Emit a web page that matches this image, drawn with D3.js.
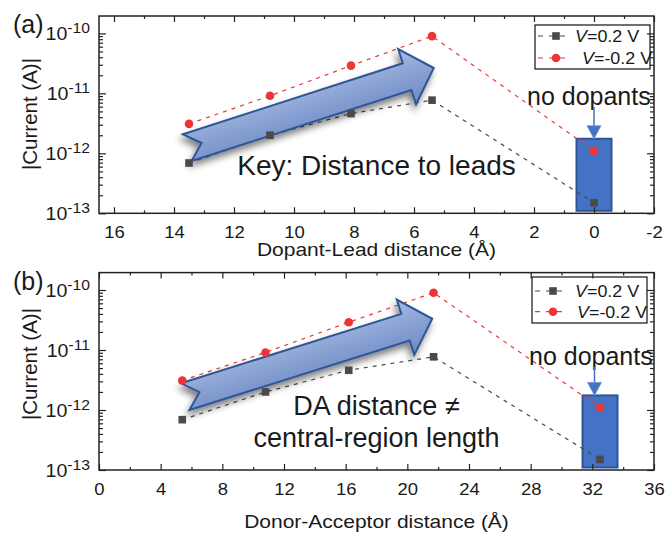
<!DOCTYPE html>
<html>
<head>
<meta charset="utf-8">
<script src="https://cdn.jsdelivr.net/npm/d3@7"></script>
<style>
  body { margin: 0; background: #fff; }
  svg { display: block; }
  text { font-family: "Liberation Sans", Arial, sans-serif; fill: #1a1a1a; }
</style>
</head>
<body>
<svg id="chart" width="668" height="536"></svg>
<script>
// ---- data ----
const leadDistance = [13.5, 10.8, 8.1, 5.4, 0];            // Å, panel (a)
const donorAcceptorDistance = [5.4, 10.8, 16.2, 21.7, 32.5]; // Å, panel (b)
const currentPosBias = [6.9e-13, 2.0e-12, 4.6e-12, 7.7e-12, 1.5e-13]; // |I| at V = 0.2 V
const currentNegBias = [3.1e-12, 9.1e-12, 2.9e-11, 9.0e-11, 1.1e-12]; // |I| at V = -0.2 V
const seriesNames = ["=0.2 V", "=-0.2 V"];
const yTickExponents = [-10, -11, -12, -13];
const xTicksLead = [16, 14, 12, 10, 8, 6, 4, 2, 0, -2];
const xTicksDA = [0, 4, 8, 12, 16, 20, 24, 28, 32, 36];

const COLORS = { pos: "#4a4a4a", neg: "#ee3535", box: "#4472c4", boxEdge: "#2f5597" };
const STRETCH = 1.12; // horizontal stretch of axis lettering

const svg = d3.select("#chart");
const defs = svg.append("defs");

const grad = defs.append("linearGradient").attr("id", "arrowFill")
  .attr("x1", 0).attr("y1", 0).attr("x2", 0).attr("y2", 1);
grad.append("stop").attr("offset", "0%").attr("stop-color", "#a6bae0");
grad.append("stop").attr("offset", "55%").attr("stop-color", "#859ed1");
grad.append("stop").attr("offset", "100%").attr("stop-color", "#6d8bc6");

const shadow = defs.append("filter").attr("id", "arrowShadow")
  .attr("x", "-20%").attr("y", "-40%").attr("width", "140%").attr("height", "180%");
shadow.append("feGaussianBlur").attr("in", "SourceAlpha").attr("stdDeviation", 3.5);
shadow.append("feOffset").attr("dx", -2).attr("dy", 5).attr("result", "off");
shadow.append("feComponentTransfer").append("feFuncA").attr("type", "linear").attr("slope", 0.5);
const merge = shadow.append("feMerge");
merge.append("feMergeNode");
merge.append("feMergeNode").attr("in", "SourceGraphic");

// notched block arrow, local coordinates (u along, v across)
const arrowShape = [[0, 0], [231, 0], [231, -15], [259, 14], [231, 43], [231, 28], [0, 28], [15, 14]];

const panels = [
  {
    tag: "(a)", xs: leadDistance, xDomain: [16.5, -2], majors: xTicksLead, minorStep: 1,
    left: 99, right: 654, top: 16, bottom: 213.3,
    xTitle: "Dopant-Lead distance (Å)", xTitleY: 255.7, yTitleY: 114,
    legend: { x: 535, y: 25, w: 115, h: 44, row1: 36, row2: 58, t1: 575, t2: 582 },
    arrow: { x: 183, y: 134.3, angle: -17.9 },
    notes: [{ text: "Key: Distance to leads", y: 175, size: 28 }],
    noDop: { x: 527, y: 105, ax: 594 }
  },
  {
    tag: "(b)", xs: donorAcceptorDistance, xDomain: [0, 36], majors: xTicksDA, minorStep: 2,
    left: 99, right: 654, top: 272.6, bottom: 470,
    xTitle: "Donor-Acceptor distance (Å)", xTitleY: 528, yTitleY: 364,
    legend: { x: 532, y: 277, w: 115, h: 46, row1: 291, row2: 311.7, t1: 575, t2: 577 },
    arrow: { x: 181, y: 383.3, angle: -17.5 },
    notes: [{ text: "DA distance ≠", y: 415, size: 27 }, { text: "central-region length", y: 446.7, size: 27 }],
    noDop: { x: 529, y: 365, ax: 594.5 }
  }
];

panels.forEach(p => drawPanel(p));

function drawPanel(p) {
  const x = d3.scaleLinear().domain(p.xDomain).range([p.left, p.right]);
  const y = d3.scaleLog().domain([1e-13, Math.pow(10, -9.71)]).range([p.bottom, p.top]);
  const g = svg.append("g");
  const n = p.xs.length;

  // highlighted "no dopants" column
  const cx = x(p.xs[n - 1]);
  const boxTop = y(1.75e-12);
  g.append("rect")
    .attr("x", cx - 17.5).attr("y", boxTop)
    .attr("width", 35).attr("height", p.bottom - 2.5 - boxTop)
    .attr("fill", COLORS.box).attr("stroke", COLORS.boxEdge).attr("stroke-width", 2);

  // dashed series lines
  const series = [
    { vals: currentPosBias, color: COLORS.pos, shape: "square" },
    { vals: currentNegBias, color: COLORS.neg, shape: "circle" }
  ];
  const line = d3.line().x(d => x(d[0])).y(d => y(d[1]));
  series.forEach(s => {
    g.append("path")
      .attr("d", line(p.xs.map((v, i) => [v, s.vals[i]])))
      .attr("fill", "none").attr("stroke", s.color)
      .attr("stroke-width", 1.2).attr("stroke-dasharray", "4,5");
  });

  // block arrow
  const a = p.arrow;
  g.append("g").attr("filter", "url(#arrowShadow)")
    .append("path")
    .attr("transform", `translate(${a.x},${a.y}) rotate(${a.angle})`)
    .attr("d", d3.line()(arrowShape) + "Z")
    .attr("fill", "url(#arrowFill)").attr("stroke", "#2f5597")
    .attr("stroke-width", 2).attr("stroke-linejoin", "miter");

  // markers
  series.forEach(s => {
    p.xs.forEach((v, i) => {
      if (s.shape === "square") {
        g.append("rect").attr("x", x(v) - 3.8).attr("y", y(s.vals[i]) - 3.8)
          .attr("width", 7.6).attr("height", 7.6).attr("fill", s.color);
      } else {
        g.append("circle").attr("cx", x(v)).attr("cy", y(s.vals[i]))
          .attr("r", 4.3).attr("fill", s.color);
      }
    });
  });

  // annotation texts
  p.notes.forEach(t => {
    g.append("text").attr("x", (p.left + p.right) / 2).attr("y", t.y)
      .attr("text-anchor", "middle").attr("font-size", t.size).text(t.text);
  });
  g.append("text").attr("x", p.noDop.x).attr("y", p.noDop.y)
    .attr("font-size", 25).text("no dopants");
  const ax = p.noDop.ax;
  g.append("line").attr("x1", ax).attr("x2", ax)
    .attr("y1", p.noDop.y + 2).attr("y2", boxTop - 12)
    .attr("stroke", COLORS.box).attr("stroke-width", 1.5);
  g.append("path")
    .attr("d", `M${ax - 7},${boxTop - 13}L${ax + 7},${boxTop - 13}L${ax},${boxTop}Z`)
    .attr("fill", COLORS.box).attr("stroke", "#6f95d8").attr("stroke-width", 0.8);

  // legend
  const L = p.legend;
  const lg = g.append("g");
  lg.append("rect").attr("x", L.x).attr("y", L.y).attr("width", L.w).attr("height", L.h)
    .attr("fill", "#fff").attr("stroke", "#111").attr("stroke-width", 1.2);
  [[L.row1, L.t1, series[0]], [L.row2, L.t2, series[1]]].forEach(([ry, tx, s], k) => {
    lg.append("line").attr("x1", L.x + 3).attr("x2", L.x + 33).attr("y1", ry).attr("y2", ry)
      .attr("stroke", s.color).attr("stroke-width", 1.2).attr("stroke-dasharray", "5,6");
    const mx = L.x + 21;
    if (s.shape === "square") {
      lg.append("rect").attr("x", mx - 3.8).attr("y", ry - 3.8).attr("width", 7.6).attr("height", 7.6).attr("fill", s.color);
    } else {
      lg.append("circle").attr("cx", mx).attr("cy", ry).attr("r", 4.3).attr("fill", s.color);
    }
    const t = lg.append("text").attr("transform", `translate(${tx},${ry + 6}) scale(${STRETCH},1)`)
      .attr("font-size", 16);
    t.append("tspan").attr("font-style", "italic").text("V");
    t.append("tspan").text(seriesNames[k]);
  });

  // ticks
  const minors = d3.range(Math.min(...p.xDomain), Math.max(...p.xDomain) + 0.001, p.minorStep)
    .filter(v => !p.majors.includes(v) && v >= Math.min(...p.xDomain) && v <= Math.max(...p.xDomain));
  const yAll = y.ticks();
  const yMaj = yAll.filter(v => Math.abs(Math.log10(v) - Math.round(Math.log10(v))) < 1e-9);
  const yMin = yAll.filter(v => !yMaj.includes(v));
  const tickStyle = sel => {
    sel.select(".domain").remove();
    sel.attr("color", "#222");
    sel.selectAll(".tick line").attr("stroke-width", 1.2);
  };

  g.append("g").attr("transform", `translate(0,${p.bottom})`)
    .call(d3.axisBottom(x).tickValues(p.majors).tickSize(-6).tickPadding(13).tickFormat(d => String(d)))
    .call(tickStyle)
    .call(s => s.selectAll("text").attr("font-size", 16.5).attr("font-family", null)
      .attr("fill", "#1a1a1a").attr("transform", `scale(${STRETCH},1)`));
  g.append("g").attr("transform", `translate(0,${p.bottom})`)
    .call(d3.axisBottom(x).tickValues(minors).tickSize(-3).tickFormat("")).call(tickStyle);
  g.append("g").attr("transform", `translate(0,${p.top})`)
    .call(d3.axisTop(x).tickValues(p.majors).tickSize(-6).tickFormat("")).call(tickStyle);
  g.append("g").attr("transform", `translate(0,${p.top})`)
    .call(d3.axisTop(x).tickValues(minors).tickSize(-3).tickFormat("")).call(tickStyle);

  g.append("g").attr("transform", `translate(${p.left},0)`)
    .call(d3.axisLeft(y).tickValues(yMaj).tickSize(-7).tickFormat("")).call(tickStyle);
  g.append("g").attr("transform", `translate(${p.left},0)`)
    .call(d3.axisLeft(y).tickValues(yMin).tickSize(-4).tickFormat("")).call(tickStyle);
  g.append("g").attr("transform", `translate(${p.right},0)`)
    .call(d3.axisRight(y).tickValues(yMaj).tickSize(-7).tickFormat("")).call(tickStyle);
  g.append("g").attr("transform", `translate(${p.right},0)`)
    .call(d3.axisRight(y).tickValues(yMin).tickSize(-4).tickFormat("")).call(tickStyle);

  // y tick labels as powers of ten
  yTickExponents.forEach(e => {
    const t = g.append("text")
      .attr("transform", `translate(${p.left - 9},${y(Math.pow(10, e)) + 7}) scale(${STRETCH},1)`)
      .attr("text-anchor", "end").attr("font-size", 17.5);
    t.append("tspan").text("10");
    t.append("tspan").attr("dy", -7.5).attr("font-size", 14).text(String(e));
  });

  // frame
  g.append("rect").attr("x", p.left).attr("y", p.top)
    .attr("width", p.right - p.left).attr("height", p.bottom - p.top)
    .attr("fill", "none").attr("stroke", "#222").attr("stroke-width", 1.5);

  // titles
  g.append("text")
    .attr("transform", `translate(${(p.left + p.right) / 2},${p.xTitleY}) scale(1.2,1)`)
    .attr("text-anchor", "middle").attr("font-size", 17.5).text(p.xTitle);
  g.append("text")
    .attr("transform", `translate(37,${p.yTitleY}) rotate(-90)`)
    .attr("text-anchor", "middle").attr("font-size", 20.5).text("|Current (A)|");
  g.append("text").attr("x", 13).attr("y", p.top + 17)
    .attr("font-size", 25).text(p.tag);
}
</script>
</body>
</html>
